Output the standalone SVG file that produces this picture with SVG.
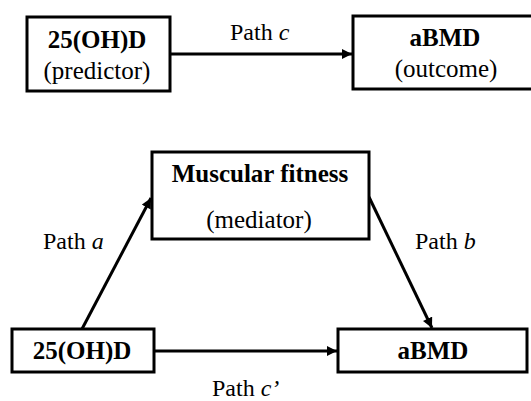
<svg xmlns="http://www.w3.org/2000/svg" width="531" height="401" viewBox="0 0 531 401">
<defs>
<style>
.box{fill:#fff;stroke:#000;stroke-width:3}
text{font-family:'Liberation Serif',serif;fill:#000}
.t{font-size:25px;text-anchor:middle}
.b{font-weight:bold}
.lbl{font-size:24px}
.edge{stroke:#000;stroke-width:3;fill:none;marker-end:url(#ah)}
</style>
<marker id="ah" viewBox="0 0 10 10" refX="10" refY="5" markerWidth="3.6" markerHeight="3.4" orient="auto" markerUnits="strokeWidth">
<path d="M0,0 L10,5 L0,10 z" fill="#000"/>
</marker>
</defs>
<rect width="531" height="401" fill="#fff"/>
<g id="connectors">
<line class="edge" x1="170" y1="54" x2="352" y2="54"/>
<line class="edge" x1="82" y1="329" x2="151" y2="198"/>
<line class="edge" x1="369" y1="197" x2="432" y2="328"/>
<line class="edge" x1="154" y1="351" x2="337" y2="351"/>
<text class="lbl" x="230" y="40" font-family="Liberation Serif, serif">Path <tspan font-style="italic">c</tspan></text>
<text class="lbl" x="43" y="249" font-family="Liberation Serif, serif">Path <tspan font-style="italic">a</tspan></text>
<text class="lbl" x="415" y="249" font-family="Liberation Serif, serif">Path <tspan font-style="italic">b</tspan></text>
<text class="lbl" x="212" y="396" font-family="Liberation Serif, serif">Path <tspan font-style="italic">c’</tspan></text>
</g>
<g id="predictor-top">
<rect class="box" x="27" y="17" width="143" height="74"/>
<text class="t b" x="97" y="48" font-family="Liberation Serif, serif">25(OH)D</text>
<text class="t" x="97" y="79" font-family="Liberation Serif, serif">(predictor)</text>
</g>
<g id="outcome-top">
<rect class="box" x="353" y="16" width="185" height="73"/>
<text class="t b" x="445" y="46" font-family="Liberation Serif, serif">aBMD</text>
<text class="t" x="446" y="77" font-family="Liberation Serif, serif">(outcome)</text>
</g>
<g id="mediator">
<rect class="box" x="152" y="152" width="217" height="87"/>
<text class="t b" x="260" y="182" font-family="Liberation Serif, serif">Muscular fitness</text>
<text class="t" x="259" y="228" font-family="Liberation Serif, serif">(mediator)</text>
</g>
<g id="predictor-bottom">
<rect class="box" x="12" y="329" width="142" height="43"/>
<text class="t b" x="82" y="359" font-family="Liberation Serif, serif">25(OH)D</text>
</g>
<g id="outcome-bottom">
<rect class="box" x="338" y="329" width="189" height="43"/>
<text class="t b" x="433" y="359" font-family="Liberation Serif, serif">aBMD</text>
</g>
</svg>
